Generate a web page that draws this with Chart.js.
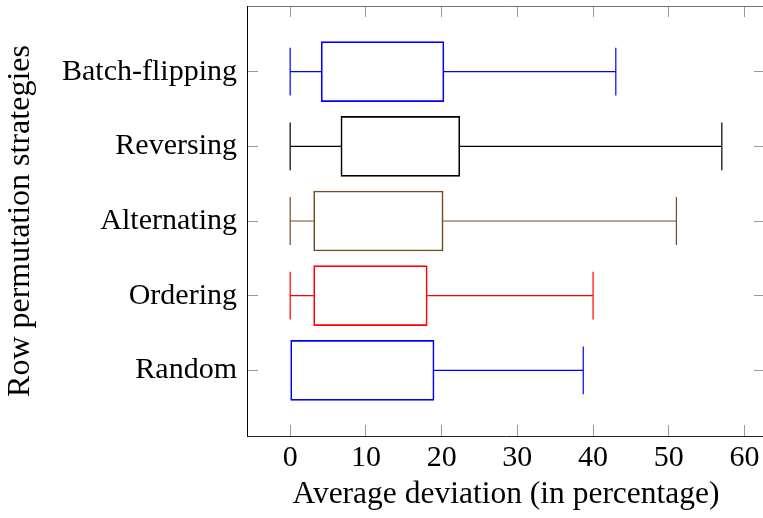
<!DOCTYPE html>
<html>
<head>
<meta charset="utf-8">
<script src="https://cdn.jsdelivr.net/npm/chart.js@4/dist/chart.umd.min.js"></script>
<style>
  html, body { margin: 0; padding: 0; background: #fff; overflow: hidden; }
  #wrap { width: 766px; height: 518px; }
</style>
</head>
<body>
<div id="wrap"><canvas id="boxChart" width="766" height="518"></canvas></div>
<script>
'use strict';

// strategies listed bottom to top, one box per strategy
var strategies = ['Random', 'Ordering', 'Alternating', 'Reversing', 'Batch-flipping'];
var whiskerLow = [0, 0, 0, 0, 0];
var lowerQuartile = [0, 3.1, 3.1, 6.7, 4.1];
var upperQuartile = [19.0, 18.1, 20.2, 22.4, 20.3];
var whiskerHigh = [38.7, 40.0, 51.0, 57.0, 43.0];
var xTicks = [0, 10, 20, 30, 40, 50, 60];

var boxColors = ['#0000ff', '#ff0000', '#734d26', '#000000', '#0000ff'];
var capHalf = 0.32;   // whisker cap half height, in y units

Chart.defaults.font.family = '"Liberation Serif", "DejaVu Serif", serif';
Chart.defaults.font.size = 30;
Chart.defaults.color = '#000';

var boxData = strategies.map(function (name, i) {
  return { y: i + 1, x: [lowerQuartile[i], upperQuartile[i]] };
});

function rowTicks(scale) {
  scale.ticks = strategies.map(function (name, i) { return { value: i + 1 }; });
}
function colTicks(scale) {
  scale.ticks = xTicks.map(function (v) { return { value: v }; });
}
// fixed box sizes so the plot area lands where it should
function fixSize(w, h) {
  return function (s) {
    if (w !== null) s.width = w;
    if (h !== null) s.height = h;
    s.paddingTop = s.paddingBottom = s.paddingLeft = s.paddingRight = 0;
  };
}

// whisker lines and end caps
var whiskers = {
  id: 'whiskers',
  beforeDatasetsDraw: function (chart) {
    var ctx = chart.ctx;
    var xs = chart.scales.x;
    var ys = chart.scales.y;
    ctx.save();
    ctx.lineWidth = 1.2;
    for (var i = 0; i < strategies.length; i++) {
      var yc = ys.getPixelForValue(i + 1);
      var y1 = ys.getPixelForValue(i + 1 + capHalf);
      var y2 = ys.getPixelForValue(i + 1 - capHalf);
      var lo = xs.getPixelForValue(whiskerLow[i]);
      var q1 = xs.getPixelForValue(lowerQuartile[i]);
      var q3 = xs.getPixelForValue(upperQuartile[i]);
      var hi = xs.getPixelForValue(whiskerHigh[i]);
      ctx.strokeStyle = boxColors[i];
      ctx.beginPath();
      if (q1 > lo) {
        ctx.moveTo(lo, yc);
        ctx.lineTo(q1, yc);
        ctx.moveTo(lo, y1);
        ctx.lineTo(lo, y2);
      }
      ctx.moveTo(q3, yc);
      ctx.lineTo(hi, yc);
      ctx.moveTo(hi, y1);
      ctx.lineTo(hi, y2);
      ctx.stroke();
    }
    ctx.restore();
  }
};

var tickGrid = { drawOnChartArea: false, offset: false, tickLength: -11, color: '#999', lineWidth: 1 };

var chart = new Chart(document.getElementById('boxChart'), {
  type: 'bar',
  data: {
    datasets: [{
      data: boxData,
      backgroundColor: 'rgba(255,255,255,0)',
      borderColor: boxColors,
      borderWidth: 1,
      borderSkipped: false,
      barThickness: 60
    }]
  },
  options: {
    indexAxis: 'y',
    responsive: false,
    animation: false,
    layout: { padding: 0 },
    plugins: { legend: { display: false }, tooltip: { enabled: false } },
    scales: {
      x: {
        type: 'linear',
        position: 'bottom',
        offset: false,
        min: -5.7,
        max: 62.7,
        afterBuildTicks: colTicks,
        ticks: { padding: 15, maxRotation: 0 },
        grid: tickGrid,
        border: { color: '#222', width: 1 },
        title: {
          display: true,
          text: 'Average deviation (in percentage)',
          font: { size: 31.5 },
          padding: { top: 0, bottom: 4 }
        },
        afterFit: fixSize(null, 82)
      },
      x2: {
        type: 'linear',
        position: 'top',
        offset: false,
        min: -5.7,
        max: 62.7,
        afterBuildTicks: colTicks,
        ticks: { display: false },
        grid: tickGrid,
        border: { color: '#777', width: 1 },
        afterFit: fixSize(null, 6)
      },
      y: {
        type: 'linear',
        position: 'left',
        offset: false,
        min: 0.12,
        max: 5.88,
        afterBuildTicks: rowTicks,
        ticks: {
          padding: 21,
          callback: function (v) { return strategies[v - 1]; }
        },
        grid: tickGrid,
        border: { color: '#000', width: 1 },
        title: {
          display: true,
          text: 'Row permutation strategies',
          font: { size: 32 },
          padding: { top: 1, bottom: 0 }
        },
        afterFit: fixSize(247, null)
      },
      y2: {
        type: 'linear',
        position: 'right',
        offset: false,
        min: 0.12,
        max: 5.88,
        afterBuildTicks: rowTicks,
        ticks: { display: false },
        grid: tickGrid,
        border: { color: '#000', width: 1 },
        afterFit: fixSize(1, null)
      }
    }
  },
  plugins: [whiskers]
});
</script>
</body>
</html>
